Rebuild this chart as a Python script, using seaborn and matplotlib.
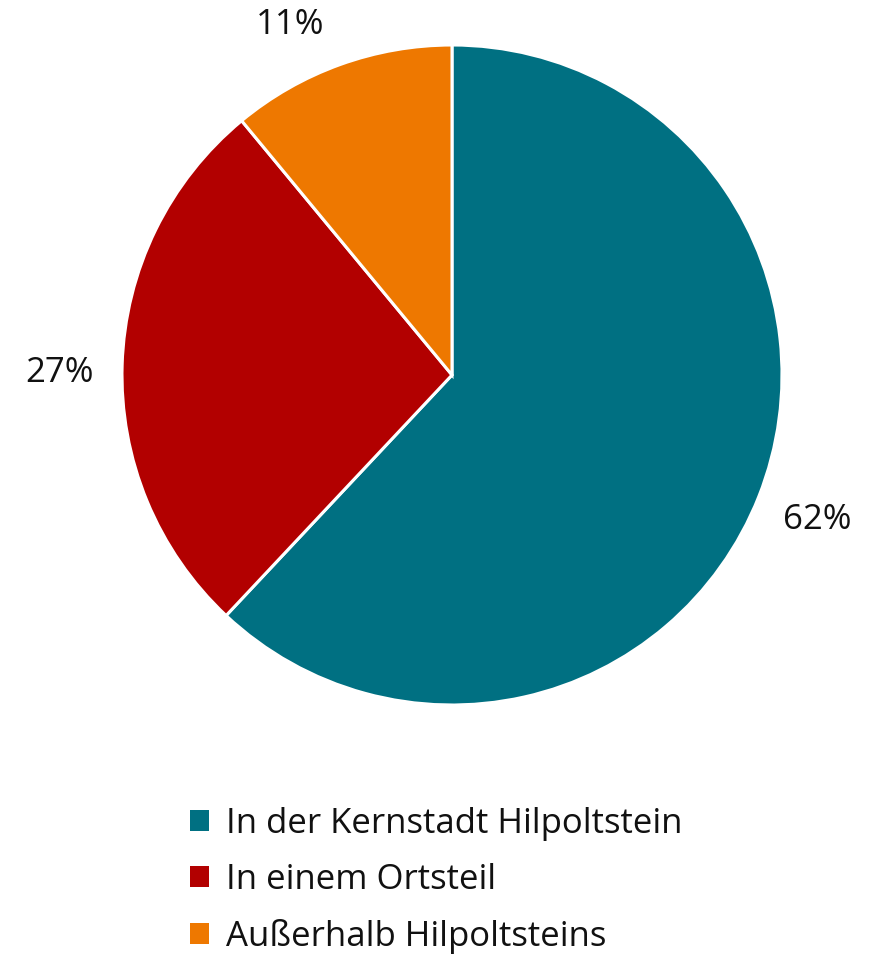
import matplotlib
matplotlib.use("Agg")
import matplotlib.pyplot as plt
import seaborn as sns
import numpy as np
from matplotlib.patches import Patch

categories = ["In der Kernstadt Hilpoltstein", "In einem Ortsteil", "Außerhalb Hilpoltsteins"]
values = [62, 27, 11]
colors = ["#007082", "#B20000", "#EE7800"]

sns.set_theme(style="white")
plt.rcParams['font.family'] = ['Open Sans', 'DejaVu Sans']
plt.rcParams['text.color'] = "#111111"

W, H = 881, 956
fig = plt.figure(figsize=(W / 100, H / 100), dpi=100)
cx, cy, r = 452, 375, 330
ax = fig.add_axes([(cx - r) / W, (H - cy - r) / H, 2 * r / W, 2 * r / H])
wedges, texts, autotexts = ax.pie(
    values, colors=colors, startangle=90, counterclock=False,
    autopct=lambda p: f"{p:.0f}%", pctdistance=1.19, radius=1,
    wedgeprops=dict(edgecolor="white", linewidth=2.2),
    textprops=dict(fontsize=25, color="#111111"))
# nudge the small slice label to sit above-left like the reference
w = wedges[2]
ang = np.deg2rad((w.theta1 + w.theta2) / 2 + 5)
autotexts[2].set_position((1.17 * np.cos(ang), 1.06))
x1, y1 = autotexts[1].get_position()
autotexts[1].set_position((x1, y1 - 0.03))
ax.set_xlim(-1, 1)
ax.set_ylim(-1, 1)
ax.set_aspect("equal")
ax.axis("off")

handles = [Patch(facecolor=c, edgecolor="none") for c in colors]
leg = fig.legend(handles, categories, loc="upper left",
           bbox_to_anchor=(190 / W, 1 - 807 / H), frameon=False,
           fontsize=25, handlelength=0.55, handleheight=0.55, handletextpad=0.5,
           labelspacing=0.63, borderpad=0, borderaxespad=0)
for t in leg.get_texts():
    t.set_color("#111111")

fig.savefig("out.png", dpi=100)
